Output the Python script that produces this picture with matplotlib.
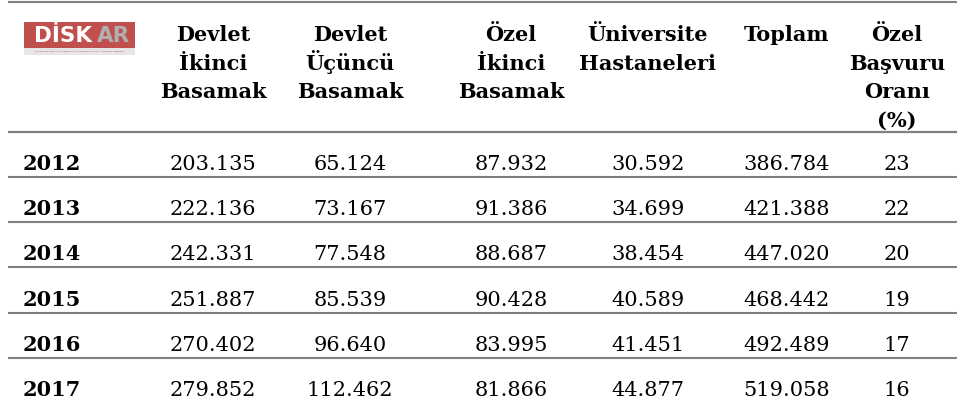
import matplotlib.pyplot as plt
from matplotlib.patches import Rectangle

years = ["2012", "2013", "2014", "2015", "2016", "2017"]
headers = ["Devlet\nİkinci\nBasamak", "Devlet\nÜçüncü\nBasamak", "Özel\nİkinci\nBasamak",
           "Üniversite\nHastaneleri", "Toplam", "Özel\nBaşvuru\nOranı\n(%)"]
devlet_ikinci = ["203.135", "222.136", "242.331", "251.887", "270.402", "279.852"]
devlet_ucuncu = ["65.124", "73.167", "77.548", "85.539", "96.640", "112.462"]
ozel_ikinci = ["87.932", "91.386", "88.687", "90.428", "83.995", "81.866"]
universite = ["30.592", "34.699", "38.454", "40.589", "41.451", "44.877"]
toplam = ["386.784", "421.388", "447.020", "468.442", "492.489", "519.058"]
ozel_oran = ["23", "22", "20", "19", "17", "16"]

columns = [devlet_ikinci, devlet_ucuncu, ozel_ikinci, universite, toplam, ozel_oran]
col_x = [213, 350, 511, 648, 787, 897]

W, H = 957, 400
fig = plt.figure(figsize=(W / 100, H / 100), dpi=100)
ax = fig.add_axes([0, 0, 1, 1])
ax.set_xlim(0, W)
ax.set_ylim(H, 0)
ax.axis("off")

serif = "DejaVu Serif"
line_col = "#808080"

# lines
ax.plot([8, W], [2, 2], color=line_col, lw=1.5, solid_capstyle="butt")
ax.plot([8, W], [132, 132], color=line_col, lw=1.6, solid_capstyle="butt")
row_h = 45.2
base0 = 170
for i in range(len(years) - 1):
    yl = 177 + row_h * i
    ax.plot([8, W], [yl, yl], color=line_col, lw=1.5, solid_capstyle="butt")

# header, one text per line so accents don't shift the spacing
head_base = 41
head_step = 28.5
for x, h in zip(col_x, headers):
    for k, part in enumerate(h.split("\n")):
        ax.text(x, head_base + k * head_step, part, ha="center", va="baseline",
                fontsize=15, fontweight="bold", family=serif, color="black")

# rows
for i, yr in enumerate(years):
    y = base0 + row_h * i
    ax.text(23, y, yr, ha="left", va="baseline", fontsize=15, fontweight="bold",
            family=serif, color="black")
    for x, col in zip(col_x, columns):
        ax.text(x, y, col[i], ha="center", va="baseline", fontsize=15,
                family=serif, color="black")

# logo
ax.add_patch(Rectangle((24, 22), 111, 26, facecolor="#c0504d", edgecolor="none"))
ax.add_patch(Rectangle((24, 48), 111, 7, facecolor="#e6e6e6", edgecolor="none"))
ax.text(34, 36, "DİSK", ha="left", va="center", fontsize=15.5, fontweight="bold",
        family="DejaVu Sans", color="white")
ax.text(97, 36, "AR", ha="left", va="center", fontsize=15.5, fontweight="bold",
        family="DejaVu Sans", color="#b0b0b0")
ax.text(79, 51.5, "TÜRKİYE DEVRİMCİ İŞÇİ SENDİKALARI KONFEDERASYONU ARAŞTIRMA MERKEZİ",
        ha="center", va="center", fontsize=1.6, color="#c0504d", family="DejaVu Sans")

fig.savefig("out.png", dpi=100)
